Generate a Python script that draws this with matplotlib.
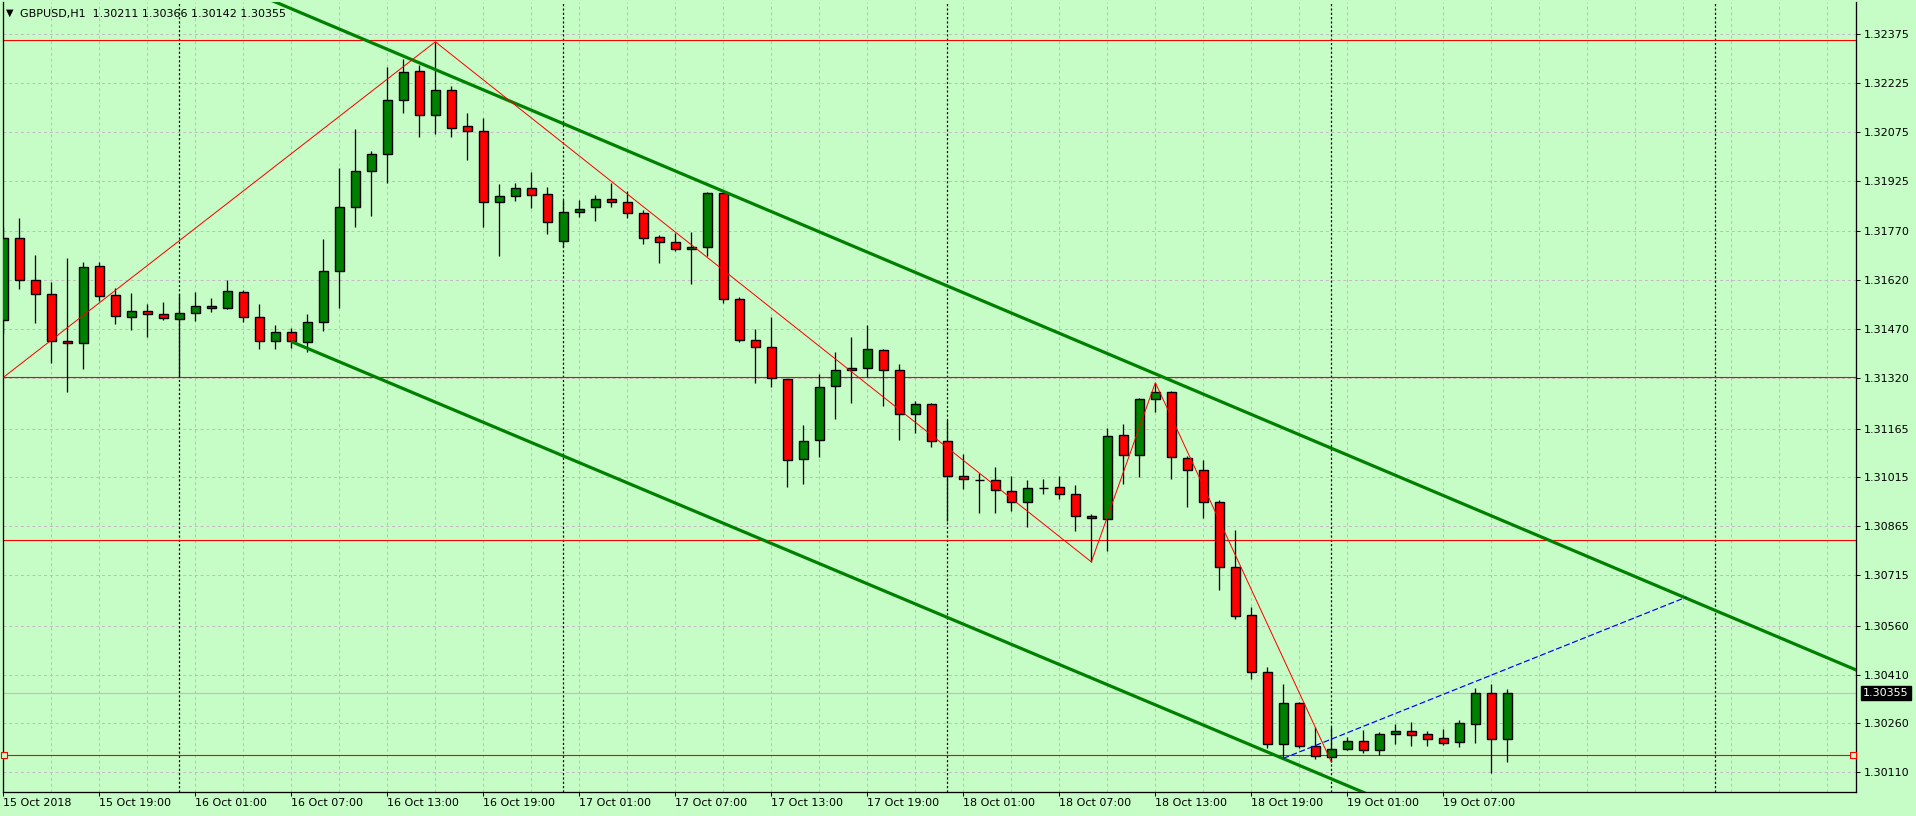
import matplotlib
matplotlib.use('Agg')
import matplotlib.pyplot as plt
from matplotlib.transforms import blended_transform_factory

# ---------------- data ----------------
bar_labels = ["15 Oct 2018", "15 Oct 19:00", "16 Oct 01:00", "16 Oct 07:00", "16 Oct 13:00",
              "16 Oct 19:00", "17 Oct 01:00", "17 Oct 07:00", "17 Oct 13:00", "17 Oct 19:00",
              "18 Oct 01:00", "18 Oct 07:00", "18 Oct 13:00", "18 Oct 19:00", "19 Oct 01:00",
              "19 Oct 07:00"]
label_bars = list(range(0, 91, 6))

opens = [1.31498, 1.31749, 1.31621, 1.31577, 1.31433, 1.31427, 1.31663, 1.31574, 1.31507, 1.31525,
         1.31516, 1.31500, 1.31519, 1.31540, 1.31534, 1.31583, 1.31507, 1.31433, 1.31460, 1.31432,
         1.31491, 1.31648, 1.31844, 1.31955, 1.32007, 1.32173, 1.32262, 1.32126, 1.32203, 1.32093,
         1.32077, 1.31861, 1.31878, 1.31902, 1.31884, 1.31740, 1.31829, 1.31844, 1.31869, 1.31859,
         1.31826, 1.31752, 1.31737, 1.31715, 1.31721, 1.31887, 1.31562, 1.31436, 1.31415, 1.31316,
         1.31071, 1.31129, 1.31295, 1.31344, 1.31350, 1.31405, 1.31344, 1.31209, 1.31240, 1.31126,
         1.31018, 1.31007, 1.31006, 1.30972, 1.30939, 1.30983, 1.30985, 1.30963, 1.30896, 1.30887,
         1.31144, 1.31083, 1.31255, 1.31276, 1.31074, 1.31037, 1.30939, 1.30739, 1.30592, 1.30417,
         1.30196, 1.30322, 1.30190, 1.30156, 1.30181, 1.30205, 1.30178, 1.30227, 1.30236, 1.30227,
         1.30214, 1.30202, 1.30257, 1.30353, 1.30211]
highs = [1.31783, 1.31810, 1.31698, 1.31614, 1.31688, 1.31675, 1.31675, 1.31595, 1.31580, 1.31546,
         1.31553, 1.31577, 1.31583, 1.31565, 1.31620, 1.31589, 1.31546, 1.31482, 1.31473, 1.31517,
         1.31747, 1.31965, 1.32084, 1.32016, 1.32275, 1.32299, 1.32281, 1.32352, 1.32215, 1.32134,
         1.32118, 1.31915, 1.31918, 1.31952, 1.31906, 1.31866, 1.31866, 1.31881, 1.31918, 1.31893,
         1.31835, 1.31758, 1.31764, 1.31767, 1.31891, 1.31894, 1.31568, 1.31471, 1.31508, 1.31316,
         1.31175, 1.31332, 1.31399, 1.31446, 1.31482, 1.31408, 1.31362, 1.31251, 1.31243, 1.31192,
         1.31088, 1.31028, 1.31046, 1.31019, 1.31006, 1.31009, 1.31021, 1.30991, 1.30903, 1.31166,
         1.31178, 1.31259, 1.31306, 1.31279, 1.31080, 1.31068, 1.30945, 1.30853, 1.30617, 1.30432,
         1.30382, 1.30326, 1.30248, 1.30248, 1.30218, 1.30240, 1.30233, 1.30257, 1.30264, 1.30236,
         1.30242, 1.30270, 1.30368, 1.30382, 1.30366]
lows = [1.31454, 1.31592, 1.31490, 1.31367, 1.31276, 1.31347, 1.31557, 1.31485, 1.31467, 1.31446,
        1.31497, 1.31322, 1.31494, 1.31522, 1.31531, 1.31493, 1.31410, 1.31410, 1.31411, 1.31401,
        1.31465, 1.31536, 1.31785, 1.31818, 1.31920, 1.32135, 1.32061, 1.32069, 1.32061, 1.31990,
        1.31785, 1.31696, 1.31864, 1.31843, 1.31761, 1.31723, 1.31815, 1.31803, 1.31846, 1.31812,
        1.31732, 1.31672, 1.31711, 1.31608, 1.31694, 1.31550, 1.31431, 1.31304, 1.31294, 1.30987,
        1.30996, 1.31079, 1.31195, 1.31244, 1.31322, 1.31235, 1.31129, 1.31151, 1.31108, 1.30882,
        1.30980, 1.30905, 1.30907, 1.30913, 1.30864, 1.30963, 1.30948, 1.30850, 1.30756, 1.30790,
        1.30996, 1.31017, 1.31215, 1.31009, 1.30925, 1.30892, 1.30669, 1.30580, 1.30396, 1.30184,
        1.30153, 1.30184, 1.30150, 1.30142, 1.30178, 1.30168, 1.30162, 1.30198, 1.30192, 1.30192,
        1.30193, 1.30187, 1.30199, 1.30107, 1.30142]
closes = [1.31749, 1.31621, 1.31577, 1.31433, 1.31427, 1.31660, 1.31571, 1.31510, 1.31525, 1.31516,
          1.31503, 1.31519, 1.31540, 1.31534, 1.31586, 1.31507, 1.31433, 1.31460, 1.31433, 1.31491,
          1.31648, 1.31844, 1.31955, 1.32007, 1.32173, 1.32258, 1.32126, 1.32203, 1.32087, 1.32077,
          1.31861, 1.31878, 1.31902, 1.31881, 1.31798, 1.31829, 1.31838, 1.31869, 1.31859, 1.31826,
          1.31749, 1.31737, 1.31715, 1.31721, 1.31887, 1.31563, 1.31437, 1.31415, 1.31319, 1.31068,
          1.31126, 1.31292, 1.31344, 1.31350, 1.31408, 1.31344, 1.31209, 1.31240, 1.31126, 1.31018,
          1.31009, 1.31007, 1.30976, 1.30939, 1.30982, 1.30983, 1.30963, 1.30896, 1.30890, 1.31141,
          1.31083, 1.31255, 1.31276, 1.31077, 1.31037, 1.30939, 1.30739, 1.30589, 1.30417, 1.30196,
          1.30322, 1.30190, 1.30159, 1.30181, 1.30205, 1.30178, 1.30227, 1.30236, 1.30224, 1.30211,
          1.30199, 1.30260, 1.30353, 1.30211, 1.30355]

price_ticks = [1.32375, 1.32225, 1.32075, 1.31925, 1.31770, 1.31620, 1.31470, 1.31320,
               1.31165, 1.31015, 1.30865, 1.30715, 1.30560, 1.30410, 1.30260, 1.30110]

hlines_red = [1.32357, 1.31322, 1.30822, 1.30162]
bid_price = 1.30355
header = "GBPUSD,H1  1.30211 1.30366 1.30142 1.30355"

zigzag_bars = [0, 27, 68, 72, 83]
zigzag_prices = [1.31322, 1.32352, 1.30756, 1.31306, 1.30142]

upper_bars = [0, 116]
upper_prices = [1.32827, 1.30420]
lower_bars = [18, 100]
lower_prices = [1.31432, 1.29739]

blue_bars = [80, 105.2]
blue_prices = [1.30153, 1.30648]

separator_bars = [11, 35, 59, 83, 107]

# ---------------- style ----------------
BG = '#C6FCC6'
GRID = '#C4B9C4'
PX = 0.72  # one pixel in points at dpi 100

plt.rcParams['font.family'] = ['DejaVu Sans']
fig = plt.figure(figsize=(19.16, 8.16), dpi=100, facecolor=BG)
ax = fig.add_axes([2.5 / 1916, 24 / 816, (1856 - 2.5) / 1916, (792 - 1.5) / 816])
ax.set_facecolor(BG)

n = len(opens)
xs = list(range(n))
ax.set_xlim(-0.05, 115.79)
ax.set_ylim(1.300497, 1.324757)

# grid
for gx in range(0, 116, 3):
    ax.axvline(gx, color=GRID, lw=PX, dashes=(2.9, 2.9), zorder=0)
for gy in price_ticks:
    ax.axhline(gy, color=GRID, lw=PX, dashes=(2.9, 2.9), zorder=0)

# period separators
for sx in separator_bars:
    ax.axvline(sx, color='black', lw=PX * 1.2, dashes=(1.8, 1.8), zorder=1)

# horizontal red lines
for hy in hlines_red:
    ax.axhline(hy, color='#FF0000', lw=PX * 1.1, zorder=2)
ax.plot([-0.05 + 0.08, 115.79 - 0.18], [hlines_red[-1]] * 2, ls='none', marker='s',
        ms=4, mfc=BG, mec='#FF0000', mew=0.8, zorder=6, clip_on=False)

# bid line
ax.axhline(bid_price, color='#C0C0C0', lw=PX * 1.2, zorder=2)

# candles
body_w = 0.5625
ax.vlines(xs, lows, highs, color='black', lw=PX * 1.3, zorder=3)
for i in range(n):
    o, c = opens[i], closes[i]
    if c > o:
        fc = '#008000'
    elif c < o:
        fc = '#FF0000'
    else:
        fc = 'black'
    bottom = min(o, c)
    height = abs(c - o)
    ax.bar(i, height, bottom=bottom, width=body_w, color=fc, edgecolor='black',
           linewidth=PX * 1.4, zorder=4)

# channel lines
ax.plot(upper_bars, upper_prices, color='#008000', lw=2.3, zorder=5, solid_capstyle='butt')
ax.plot(lower_bars, lower_prices, color='#008000', lw=2.3, zorder=5, solid_capstyle='butt')
# zigzag
ax.plot(zigzag_bars, zigzag_prices, color='#FF0000', lw=PX, zorder=5)
# blue dashed line
ax.plot(blue_bars, blue_prices, color='#0000FF', lw=PX * 1.2, dashes=(5, 2.2), zorder=5)

# axes / ticks
for s in ['left', 'bottom', 'right']:
    ax.spines[s].set_color('black')
    ax.spines[s].set_linewidth(PX * 1.3)
ax.spines['top'].set_visible(False)

ax.set_yticks(price_ticks)
ax.set_yticklabels(['%.5f' % v for v in price_ticks])
ax.yaxis.tick_right()
ax.tick_params(axis='y', which='both', direction='out', length=2.6, width=PX,
               pad=2.8, labelsize=8, colors='black', left=False, right=True)

ax.set_xticks(label_bars)
ax.set_xticklabels(bar_labels)
ax.tick_params(axis='x', which='both', direction='out', length=3.0, width=PX,
               pad=1.3, labelsize=8, colors='black')
for lab in ax.get_xticklabels():
    lab.set_horizontalalignment('left')

# current price label
trans = blended_transform_factory(ax.transAxes, ax.transData)
ax.annotate('%.5f' % bid_price, xy=(1.0, bid_price), xycoords=trans,
            xytext=(5, 0), textcoords='offset points', va='center', ha='left',
            fontsize=8, color='white', zorder=10, annotation_clip=False,
            bbox=dict(boxstyle='square,pad=0.18', fc='black', ec='black'))

# header
fig.text(6 / 1916, 1 - 12.5 / 816, '\u25BC', fontsize=7, va='center', ha='left', color='black')
fig.text(20.5 / 1916, 1 - 13.5 / 816, header, fontsize=8, va='center', ha='left', color='black')

fig.savefig('out.png', dpi=100, facecolor=BG)
